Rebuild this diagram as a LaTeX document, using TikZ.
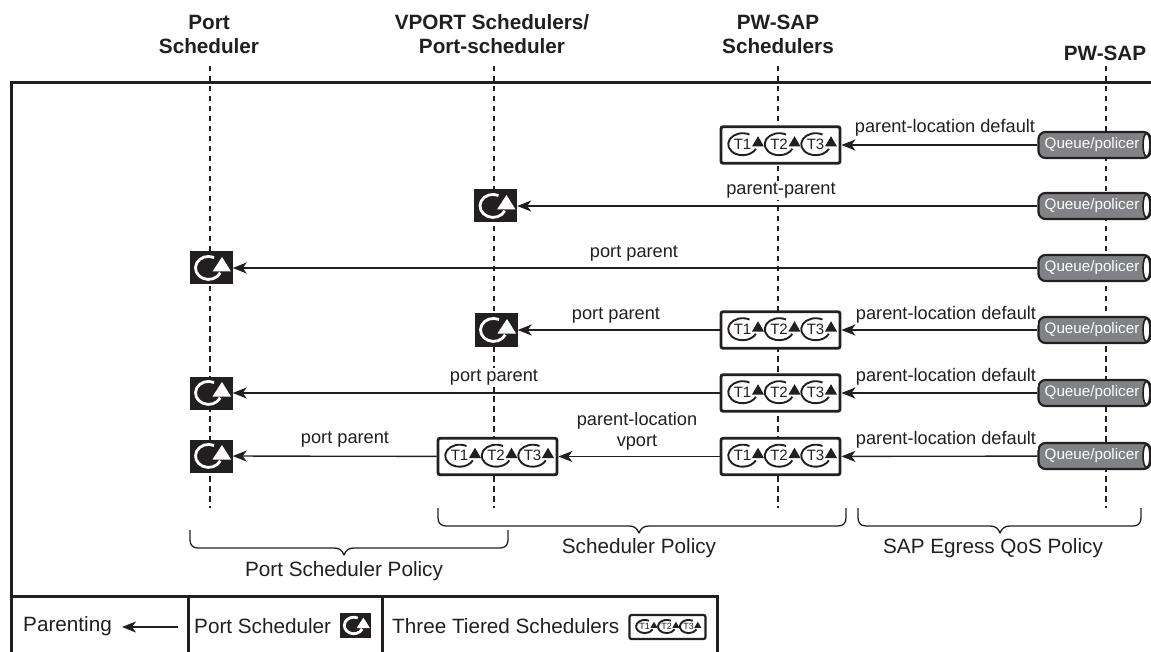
\documentclass[tikz,border=0pt]{standalone}
\usepackage{fontspec}
\setmainfont{Liberation Sans}
\usetikzlibrary{arrows.meta}
\definecolor{txt}{HTML}{231F20}
\definecolor{qfill}{HTML}{808285}
\tikzset{
  x=1pt,y=-1pt,
  every pic/.style={transform shape},
  every node/.style={text=txt,inner sep=0pt,font=\fontsize{17}{20}\selectfont},
  head/.style={align=center,font=\fontsize{20.7}{24}\selectfont\bfseries},
  lab/.style={align=center,fill=white,inner sep=2pt,yshift=-1.5pt,font=\fontsize{18.2}{21}\selectfont},
  biglab/.style={align=center,font=\fontsize{20.7}{24}\selectfont},
  legend/.style={anchor=west,font=\fontsize{20.7}{24}\selectfont},
  frameline/.style={draw=txt,line width=3pt},
  axis/.style={draw=txt,dashed,dash pattern=on 5.5pt off 4.5pt,line width=1.5pt},
  conn/.style={draw=txt,line width=1.35pt,-{Stealth[length=14pt,width=11pt,inset=4pt]}},
  bracket/.style={draw=txt,line width=1.3pt},
  tierbox/.style={draw=txt,line width=2.8pt,fill=white,rounded corners=2pt,minimum width=119pt,minimum height=36.5pt},
  blacksq/.style={fill=txt,minimum width=43pt,minimum height=33pt},
  queue/.style={draw=txt,line width=2.2pt,fill=qfill,rounded corners=7pt,minimum width=112pt,minimum height=26pt,text=white,font=\fontsize{15.2}{18}\selectfont},
  pics/tierloop/.style={code={
    \draw[txt,line width=1.9pt] (7,-10.5) arc[start angle=-62,end angle=-335,x radius=14.5,y radius=11];
    \fill[txt] (9.5,1.5) -- (21.5,1.5) -- (15.5,-8.8) -- cycle;
    \node[transform shape,font=\fontsize{15}{17}\selectfont] at (0,-1) {#1};
  }},
  pics/tierset/.style={code={
    \pic at (-38,0) {tierloop=T1};
    \pic at (-1.5,0) {tierloop=T2};
    \pic at (35,0) {tierloop=T3};
  }},
  pics/sqloop/.style={code={
    \draw[white,line width=2.8pt] (3,-10.5) arc[start angle=-65,end angle=-335,x radius=13,y radius=11.5];
    \fill[white] (1.5,3.5) -- (20,3.5) -- (11,-11) -- cycle;
  }},
}
\newcommand{\qnode}[2]{\node[queue] (#1) at (1094.5,#2) {\raisebox{-1pt}{Queue/policer\hspace{5pt}}};
  \fill[white,draw=txt,line width=1.6pt] (1146.5,#2) ellipse [x radius=3.5,y radius=11.5];}
\newcommand{\tnode}[3]{\node[tierbox] (#1) at (#2,#3) {}; \pic at (#1.center) {tierset};}
\newcommand{\snode}[3]{\node[blacksq] (#1) at (#2,#3) {}; \pic at (#1.center) {sqloop};}
\newcommand{\curlybr}[4]{% left, tip, right, top
  \draw[bracket,line join=round] (#1,#4) -- ({#1},{#4+10})
   .. controls ({#1},{#4+15}) and ({#1+3},{#4+18}) .. ({#1+8},{#4+18})
   -- ({#2-10},{#4+18})
   .. controls ({#2-5},{#4+18}) and ({#2-2},{#4+20}) .. ({#2},{#4+25})
   .. controls ({#2+2},{#4+20}) and ({#2+5},{#4+18}) .. ({#2+10},{#4+18})
   -- ({#3-8},{#4+18})
   .. controls ({#3-3},{#4+18}) and ({#3},{#4+15}) .. ({#3},{#4+10})
   -- (#3,#4);}
\begin{document}
\begin{tikzpicture}
\useasboundingbox[fill=white] (0,0) rectangle (1151,652);
% headers
\node[head] (hp) at (209,34) {Port\\Scheduler};
\node[head] (hv) at (492,34) {VPORT Schedulers/\\Port-scheduler};
\node[head] (hs) at (778,34) {PW-SAP\\Schedulers};
\node[head] (hq) at (1105,53) {PW-SAP};
% axes
\coordinate (e1) at (210,508); \coordinate (e2) at (494,508);
\coordinate (e3) at (778,508); \coordinate (e4) at (1106,508);
\coordinate (s1) at (210,66); \coordinate (s2) at (494,66);
\coordinate (s3) at (778,66); \coordinate (s4) at (1106,66);
\draw[axis] (s1) -- (e1);
\draw[axis] (s2) -- (e2);
\draw[axis] (s3) -- (e3);
\draw[axis] (s4) -- (e4);
% frame
\draw[frameline] (1151,83) -- (11,83) -- (11,652);
\draw[frameline] (11,596) -- (717,596) -- (717,652);
\draw[frameline] (188,596) -- (188,652);
\draw[frameline] (382,596) -- (382,652);
% row nodes
\qnode{q1}{145} \qnode{q2}{206} \qnode{q3}{268} \qnode{q4}{330} \qnode{q5}{393} \qnode{q6}{456}
\tnode{t1}{780.5}{145}
\tnode{t4}{780.5}{330}
\tnode{t5}{780.5}{393}
\tnode{t6}{780.5}{456.5}
\tnode{v6}{497.5}{456.5}
\snode{s2b}{495.5}{206}
\snode{s3b}{211}{268}
\snode{s4b}{496}{330}
\snode{s5b}{211}{393}
\snode{s6b}{211}{456}
% labels
\node[lab] (l1) at (945,126) {parent-location default};
\node[lab] (l2) at (781,189) {parent-parent};
\node[lab] (l3) at (634,252) {port parent};
\node[lab] (l4a) at (616,314) {port parent};
\node[lab] (l4b) at (946,313) {parent-location default};
\node[lab] (l5a) at (494,376) {port parent};
\node[lab] (l5b) at (946,375) {parent-location default};
\node[lab] (l6a) at (345,438) {port parent};
\node[lab] (l6b) at (637,430) {parent-location\\vport};
\node[lab] (l6c) at (946,438) {parent-location default};
% connectors
\draw[conn] (q1) -- (t1);
\draw[conn] (q2) -- (s2b);
\draw[conn] (q3) -- (s3b);
\draw[conn] (q4) -- (t4);
\draw[conn] (t4) -- (s4b);
\draw[conn] (q5) -- (t5);
\draw[conn] (t5) -- (s5b);
\draw[conn] (q6) -- (t6);
\draw[conn] (t6) -- (v6);
\draw[conn] (v6) -- (s6b);
% brackets
\curlybr{190}{344}{508}{530}
\curlybr{438}{639}{846}{508}
\curlybr{858}{1000}{1141}{508}
\node[biglab] (b1) at (344,571) {Port Scheduler Policy};
\node[biglab] (b2) at (639,548) {Scheduler Policy};
\node[biglab] (b3) at (993,548) {SAP Egress QoS Policy};
% legend
\node[legend] (lg1) at (23,626) {Parenting};
\coordinate (lga) at (178,627); \coordinate (lgb) at (122,627);
\draw[conn] (lga) -- (lgb);
\node[legend] (lg2) at (194,626) {Port Scheduler};
\node[blacksq,minimum width=31pt,minimum height=25pt] (lg2i) at (355.5,625.5) {};
\pic[scale=0.72] at (lg2i.center) {sqloop};
\node[legend] (lg3) at (392,626) {Three Tiered Schedulers};
\node[tierbox,minimum width=76pt,minimum height=24pt,line width=2.2pt] (lg3i) at (667.5,627) {};
\pic[scale=0.6] at (lg3i.center) {tierset};
\end{tikzpicture}
\end{document}
